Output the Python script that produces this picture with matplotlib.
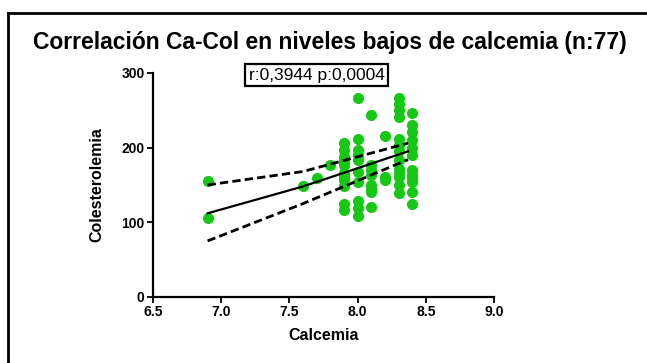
import numpy as np
import matplotlib
matplotlib.use('Agg')
import matplotlib.pyplot as plt
from matplotlib.lines import Line2D

plt.rcParams['font.family'] = ['Liberation Sans', 'DejaVu Sans']

# calcemia (mg/dl) and colesterolemia (mg/dl)
calcemia = [6.9, 6.9,
            7.6, 7.7, 7.8,
            7.9, 7.9, 7.9, 7.9, 7.9, 7.9, 7.9, 7.9, 7.9, 7.9, 7.9,
            8.0, 8.0, 8.0, 8.0, 8.0, 8.0, 8.0, 8.0, 8.0, 8.0,
            8.1, 8.1, 8.1, 8.1, 8.1, 8.1, 8.1, 8.1,
            8.2, 8.2, 8.2,
            8.3, 8.3, 8.3, 8.3, 8.3, 8.3, 8.3, 8.3, 8.3, 8.3, 8.3, 8.3, 8.3,
            8.4, 8.4, 8.4, 8.4, 8.4, 8.4, 8.4, 8.4, 8.4, 8.4, 8.4, 8.4]
colesterol = [155, 106,
              148, 159, 177,
              206, 197, 188, 182, 177, 166, 160, 157, 148, 125, 116,
              266, 212, 197, 190, 183, 168, 154, 128, 119, 108,
              244, 177, 170, 163, 150, 145, 141, 121,
              215, 157, 160,
              266, 258, 250, 241, 212, 204, 195, 183, 172, 166, 161, 150, 139,
              246, 230, 221, 210, 199, 190, 170, 163, 158, 154, 140, 125]

# recta de regresion y banda de confianza 95%
fit_x = [6.9, 7.6, 8.37]
fit_y = [112, 148, 195]
ci_upper = [150, 168, 206]
ci_lower = [75, 125, 184]

x_ticks = [6.5, 7.0, 7.5, 8.0, 8.5, 9.0]
y_ticks = [0, 100, 200, 300]
stats_text = 'r:0,3944 p:0,0004'

fig = plt.figure(figsize=(6.47, 3.63), dpi=100)
ax = fig.add_axes([0.2365, 0.182, 0.527, 0.617])

ax.plot(calcemia, colesterol, 'o', color='#14c814', markersize=7, zorder=2)
ax.plot(fit_x, fit_y, color='black', lw=1.6, zorder=3)
ax.plot(fit_x, ci_upper, color='black', lw=2, ls=(0, (3, 1.5)), zorder=3)
ax.plot(fit_x, ci_lower, color='black', lw=2, ls=(0, (3, 1.5)), zorder=3)

ax.set_xlim(6.5, 9.0)
ax.set_ylim(0, 300)
ax.set_xticks(x_ticks)
ax.set_xticklabels([f'{v:.1f}' for v in x_ticks], fontweight='bold')
ax.set_yticks(y_ticks)
ax.set_yticklabels([str(v) for v in y_ticks], fontweight='bold')
ax.tick_params(labelsize=10, length=4, width=1.3, pad=2)
for side in ['top', 'right']:
    ax.spines[side].set_visible(False)
for side in ['left', 'bottom']:
    ax.spines[side].set_linewidth(1.6)
ax.set_xlabel('Calcemia', fontsize=11.5, fontweight='bold', labelpad=6)
ax.set_ylabel('Colesterolemia', fontsize=11.5, fontweight='bold', labelpad=12)

ax.text(0.48, 0.99, stats_text, transform=ax.transAxes, ha='center', va='center',
        fontsize=12.5, bbox=dict(boxstyle='square,pad=0.2', fc='white', ec='black', lw=1.6))

fig.text(0.051, 0.865, 'Correlación Ca-Col en niveles bajos de calcemia (n:77)',
         fontsize=16.5, fontweight='bold', va='baseline')

# marco exterior (solo arriba e izquierda visibles)
fig.add_artist(Line2D([0.013, 1.0], [0.963, 0.963], transform=fig.transFigure, color='black', lw=2))
fig.add_artist(Line2D([0.013, 0.013], [0.0, 0.963], transform=fig.transFigure, color='black', lw=2))

fig.savefig('out.png', dpi=100)
